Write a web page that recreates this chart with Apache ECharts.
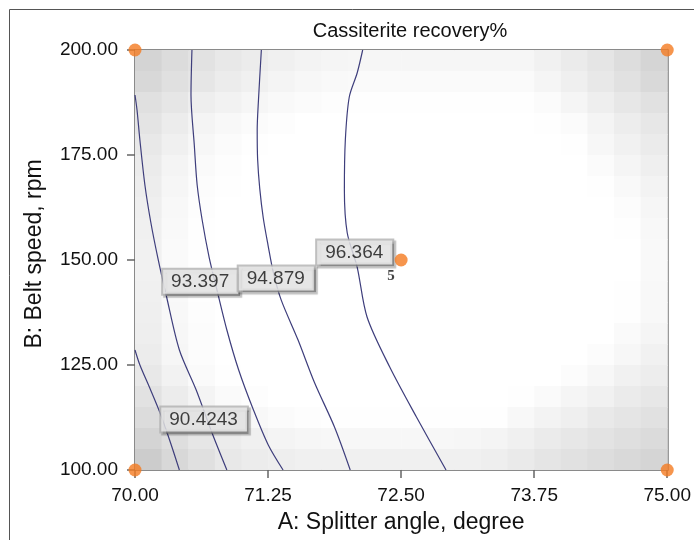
<!DOCTYPE html>
<html>
<head>
<meta charset="utf-8">
<script src="https://cdn.jsdelivr.net/npm/echarts@6/dist/echarts.min.js"></script>
<style>
html,body{margin:0;padding:0;background:#fff;}
#chart{width:694px;height:540px;}
</style>
</head>
<body>
<div id="chart"></div>
<script>
// ---- data ----
const chartTitle = 'Cassiterite recovery%';
const xName = 'A: Splitter angle, degree';
const yName = 'B: Belt speed, rpm';
const xMin = 70, xMax = 75, xStep = 1.25;
const yMin = 100, yMax = 200, yStep = 25;

// contour lines [A, B]
const contour1 = [[70.000,128.57],[70.046,125.00],[70.139,119.52],[70.232,113.81],[70.325,107.14],[70.417,100.00]];
const contour2 = [[70.000,189.29],[70.019,185.71],[70.046,178.57],[70.093,167.86],[70.148,159.05],[70.213,150.71],[70.297,141.19],[70.417,128.57],[70.575,119.05],[70.724,108.81],[70.863,100.00]];
const contour3 = [[70.535,200.00],[70.526,189.29],[70.557,177.38],[70.584,167.86],[70.631,159.52],[70.696,150.71],[70.770,142.86],[70.863,133.33],[70.974,123.81],[71.113,114.29],[71.252,105.95],[71.391,100.00]];
const contour4 = [[71.187,200.00],[71.160,188.10],[71.148,180.95],[71.152,174.00],[71.172,167.00],[71.205,160.00],[71.250,153.50],[71.300,147.00],[71.373,140.50],[71.531,131.00],[71.688,120.71],[71.874,110.24],[72.022,100.00]];
const contour5 = [[72.139,200.00],[72.087,194.52],[72.013,188.81],[71.976,178.57],[71.967,166.67],[71.994,156.43],[72.087,148.33],[72.180,136.43],[72.393,124.52],[72.644,112.62],[72.922,100.00]];

// contour labels
const labelTexts = ['90.4243','93.397','94.879','96.364'];
const labelPos = [[70.649,112.0],[70.617,144.8],[71.327,145.6],[72.064,151.8]];

// design points
const designPoints = [[70,100],[70,200],[75,100],[75,200]];
const centerPoint = [72.5,150];
const centerCount = '5';

// background shading: grey level per cell, 20 columns x 20 rows, top row first
const shadeRows = [
 [212,220,226,232,236,240,243,245,246,246,246,246,246,246,246,241,235,229,221,213],
 [216,224,230,236,240,244,247,249,250,250,250,250,250,250,250,245,239,232,225,217],
 [224,230,238,242,246,249,251,253,254,254,254,254,254,254,254,251,245,238,231,225],
 [228,236,244,248,251,253,255,255,255,255,255,255,255,255,255,254,251,244,237,231],
 [232,240,247,251,254,255,255,255,255,255,255,255,255,255,255,255,254,247,241,235],
 [235,244,250,253,255,255,255,255,255,255,255,255,255,255,255,255,255,251,245,239],
 [237,246,252,254,255,255,255,255,255,255,255,255,255,255,255,255,255,254,249,243],
 [239,248,253,255,255,255,255,255,255,255,255,255,255,255,255,255,255,255,252,246],
 [240,249,254,255,255,255,255,255,255,255,255,255,255,255,255,255,255,255,254,248],
 [241,250,254,255,255,255,255,255,255,255,255,255,255,255,255,255,255,255,255,249],
 [241,250,254,255,255,255,255,255,255,255,255,255,255,255,255,255,255,255,255,249],
 [240,249,254,255,255,255,255,255,255,255,255,255,255,255,255,255,255,255,254,248],
 [239,248,253,255,255,255,255,255,255,255,255,255,255,255,255,255,255,255,254,248],
 [238,247,252,255,255,255,255,255,255,255,255,255,255,255,255,255,255,255,250,245],
 [236,246,252,255,255,255,255,255,255,255,255,255,255,255,255,255,255,252,247,241],
 [232,242,250,254,255,255,255,255,255,255,255,255,255,255,255,255,252,247,241,237],
 [226,236,244,250,253,255,255,255,255,255,255,255,255,255,254,250,245,241,235,231],
 [220,230,238,244,248,251,253,254,254,254,254,254,254,254,248,243,239,233,229,225],
 [212,222,230,236,240,244,246,247,247,247,247,247,246,244,240,235,231,227,223,219],
 [204,216,224,232,236,238,240,240,240,240,240,240,240,238,234,229,225,221,217,213]
];

// ---- build ----
const nCols = shadeRows[0].length, nRows = shadeRows.length;
const cellW = (xMax - xMin) / nCols, cellH = (yMax - yMin) / nRows;
const shadeData = [];
shadeRows.forEach((row, j) => row.forEach((g, i) => shadeData.push([i, j, g])));

const FONT = 'Liberation Sans, Arial, sans-serif';
const lineColor = '#3e3e7c';

const chart = echarts.init(document.getElementById('chart'), null, {renderer: 'canvas'});

function contourSeries(d) {
  return {
    type: 'line', data: d, showSymbol: false, smooth: 0.3, z: 3,
    lineStyle: {color: lineColor, width: 1.2}, silent: true, animation: false
  };
}

const option = {
  animation: false,
  backgroundColor: '#fff',
  title: {
    text: chartTitle, left: 405, top: 16, textAlign: 'center',
    textStyle: {fontFamily: FONT, fontSize: 20, fontWeight: 'normal', color: '#111'}
  },
  grid: {left: 135, top: 50, width: 539, height: 420},
  xAxis: [{
    type: 'value', min: xMin, max: xMax, interval: xStep, position: 'bottom',
    name: xName, nameLocation: 'middle', nameGap: 41,
    nameTextStyle: {fontFamily: FONT, fontSize: 23, color: '#111'},
    axisLine: {show: true, lineStyle: {color: '#8a8a8a', width: 2}},
    axisTick: {show: true, length: 8, lineStyle: {color: '#666', width: 1.5}},
    axisLabel: {fontFamily: FONT, fontSize: 19, color: '#111', margin: 16,
      formatter: v => v.toFixed(2)},
    splitLine: {show: false}
  }, {
    type: 'value', min: xMin, max: xMax, position: 'top',
    axisLine: {show: true, lineStyle: {color: '#8a8a8a', width: 2}},
    axisTick: {show: false}, axisLabel: {show: false}, splitLine: {show: false}
  }],
  yAxis: [{
    type: 'value', min: yMin, max: yMax, interval: yStep, position: 'left',
    name: yName, nameLocation: 'middle', nameGap: 89,
    nameTextStyle: {fontFamily: FONT, fontSize: 23, color: '#111', padding: [0, 0, 0, 12]},
    axisLine: {show: true, lineStyle: {color: '#8a8a8a', width: 2}},
    axisTick: {show: true, length: 8, lineStyle: {color: '#666', width: 1.5}},
    axisLabel: {fontFamily: FONT, fontSize: 19, color: '#111', margin: 17,
      formatter: v => v.toFixed(2)},
    splitLine: {show: false}
  }, {
    type: 'value', min: yMin, max: yMax, position: 'right',
    axisLine: {show: true, lineStyle: {color: '#777', width: 2.5}},
    axisTick: {show: false}, axisLabel: {show: false}, splitLine: {show: false}
  }],
  graphic: [{
    type: 'rect', silent: true, z: -1,
    shape: {x: 9.5, y: 9.5, width: 800, height: 800},
    style: {fill: 'none', stroke: '#555', lineWidth: 1}
  }],
  series: [
    {
      type: 'custom', data: shadeData, z: 1, silent: true, clip: true,
      renderItem: function (params, api) {
        const i = api.value(0), j = api.value(1), g = api.value(2);
        const p0 = api.coord([xMin + i * cellW, yMax - j * cellH]);
        const p1 = api.coord([xMin + (i + 1) * cellW, yMax - (j + 1) * cellH]);
        return {
          type: 'rect',
          shape: {x: p0[0], y: p0[1], width: p1[0] - p0[0] + 0.6, height: p1[1] - p0[1] + 0.6},
          style: {fill: 'rgb(' + g + ',' + g + ',' + g + ')'}
        };
      }
    },
    contourSeries(contour1),
    contourSeries(contour2),
    contourSeries(contour3),
    contourSeries(contour4),
    contourSeries(contour5),
    {
      type: 'scatter', data: labelPos, symbolSize: 1, z: 5, silent: true,
      itemStyle: {color: 'rgba(0,0,0,0)'},
      label: {
        show: true, position: 'inside',
        formatter: p => labelTexts[p.dataIndex],
        fontFamily: FONT, fontSize: 19, color: '#111',
        backgroundColor: '#efefef', borderColor: '#b0b0b0', borderWidth: 2,
        padding: [3, 9, 2, 8],
        shadowColor: 'rgba(0,0,0,0.3)', shadowOffsetX: 2, shadowOffsetY: 2, shadowBlur: 1
      }
    },
    {
      type: 'scatter', data: designPoints, symbolSize: 13, z: 8, clip: false, silent: true,
      itemStyle: {color: '#f47a20'}
    },
    {
      type: 'scatter', data: [centerPoint], symbolSize: 13, z: 8, clip: false, silent: true,
      itemStyle: {color: '#f47a20'},
      label: {
        show: true, position: 'bottom', distance: 2, offset: [-10, 0],
        formatter: centerCount,
        fontFamily: 'Liberation Serif, DejaVu Serif, serif', fontWeight: 'bold', fontSize: 15, color: '#111'
      }
    }
  ]
};
chart.setOption(option);
</script>
</body>
</html>
